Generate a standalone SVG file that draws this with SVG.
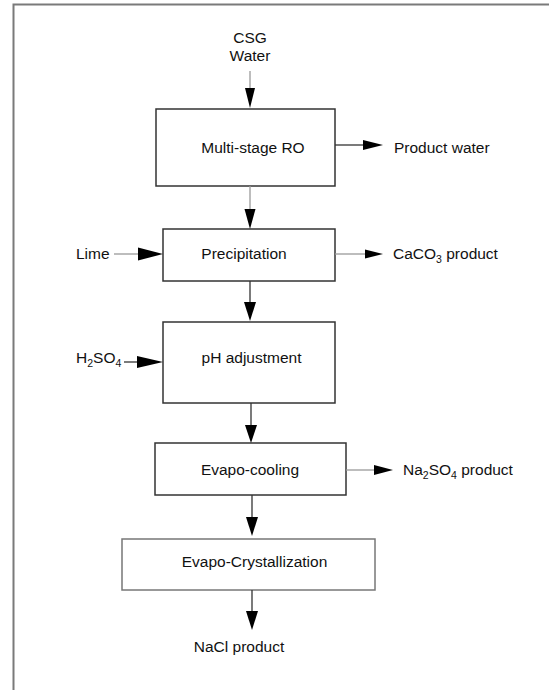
<svg xmlns="http://www.w3.org/2000/svg" width="549" height="690" viewBox="0 0 549 690">
  <style>
    .frame { fill: none; stroke: #7a7a7a; stroke-width: 2; }
    .box { fill: #ffffff; stroke: #333333; stroke-width: 1.5; }
    .box.light { stroke: #777777; }
    .ln { fill: none; stroke: #9a9a9a; stroke-width: 1.3; }
    .ln.dk { stroke: #333333; }
    .head { fill: #000000; stroke: none; }
    text { font-family: "Liberation Sans", Arial, sans-serif; font-size: 15.5px; fill: #111111; }
    .mid { text-anchor: middle; }
    .sub { font-size: 10.5px; }
  </style>

  <!-- outer frame (top and left edges) -->
  <path class="frame" d="M13.5,690 V4.5 H549"/>

  <!-- feed label -->
  <g id="feed">
    <text class="mid" x="250" y="43">CSG</text>
    <text class="mid" x="250" y="61">Water</text>
  </g>

  <!-- process units -->
  <g id="ro">
    <rect class="box" x="156" y="109" width="179" height="77"/>
    <text class="mid" x="253" y="153">Multi-stage RO</text>
  </g>
  <g id="precipitation">
    <rect class="box" x="163" y="229" width="172" height="52"/>
    <text class="mid" x="244" y="259">Precipitation</text>
  </g>
  <g id="ph">
    <rect class="box" x="163" y="322" width="172" height="81"/>
    <text class="mid" x="251.5" y="363">pH adjustment</text>
  </g>
  <g id="cooling">
    <rect class="box" x="155" y="443" width="191" height="52"/>
    <text class="mid" x="250" y="475">Evapo-cooling</text>
  </g>
  <g id="crystallization">
    <rect class="box light" x="122" y="539" width="253" height="51"/>
    <text class="mid" x="254.5" y="567">Evapo-Crystallization</text>
  </g>

  <!-- side streams -->
  <g id="product-water"><text x="394" y="153">Product water</text></g>
  <g id="lime"><text x="76" y="259">Lime</text></g>
  <g id="caco3"><text x="393" y="259">CaCO<tspan class="sub" dy="4">3</tspan><tspan dy="-4"> product</tspan></text></g>
  <g id="h2so4"><text x="76" y="363">H<tspan class="sub" dy="4">2</tspan><tspan dy="-4">SO</tspan><tspan class="sub" dy="4">4</tspan></text></g>
  <g id="na2so4"><text x="403" y="475">Na<tspan class="sub" dy="4">2</tspan><tspan dy="-4">SO</tspan><tspan class="sub" dy="4">4</tspan><tspan dy="-4"> product</tspan></text></g>
  <g id="nacl"><text class="mid" x="239" y="652">NaCl product</text></g>

  <!-- connectors -->
  <g id="connectors">
    <!-- CSG water into RO -->
    <line class="ln" x1="250" y1="71" x2="250" y2="89"/>
    <polygon class="head" points="245,88 255,88 250,108"/>
    <!-- RO to product water -->
    <line class="ln dk" x1="335" y1="145" x2="364" y2="145"/>
    <polygon class="head" points="363,140 383,145 363,150"/>
    <!-- RO to precipitation -->
    <line class="ln" x1="250" y1="186" x2="250" y2="210"/>
    <polygon class="head" points="244.5,209 255.5,209 250,229"/>
    <!-- lime into precipitation -->
    <line class="ln" x1="114" y1="254" x2="139" y2="254"/>
    <polygon class="head" points="138,247.5 163,254 138,260.5"/>
    <!-- precipitation to CaCO3 -->
    <line class="ln" x1="335" y1="254" x2="366" y2="254"/>
    <polygon class="head" points="365,249.5 383,254 365,258.5"/>
    <!-- precipitation to pH adjustment -->
    <line class="ln dk" x1="250" y1="281" x2="250" y2="303"/>
    <polygon class="head" points="244,302 256,302 250,321"/>
    <!-- H2SO4 into pH adjustment -->
    <line class="ln dk" x1="124" y1="362" x2="138" y2="362"/>
    <polygon class="head" points="137,356 163,362 137,368"/>
    <!-- pH adjustment to evapo-cooling -->
    <line class="ln dk" x1="251" y1="403" x2="251" y2="426"/>
    <polygon class="head" points="245,425 257,425 251,443"/>
    <!-- evapo-cooling to Na2SO4 -->
    <line class="ln" x1="346" y1="470" x2="375" y2="470"/>
    <polygon class="head" points="374,465 393,470 374,475"/>
    <!-- evapo-cooling to evapo-crystallization -->
    <line class="ln dk" x1="252" y1="495" x2="252" y2="518"/>
    <polygon class="head" points="246,517 258,517 252,536"/>
    <!-- evapo-crystallization to NaCl -->
    <line class="ln dk" x1="252" y1="590" x2="252" y2="612"/>
    <polygon class="head" points="246,611 258,611 252,630"/>
  </g>
</svg>
